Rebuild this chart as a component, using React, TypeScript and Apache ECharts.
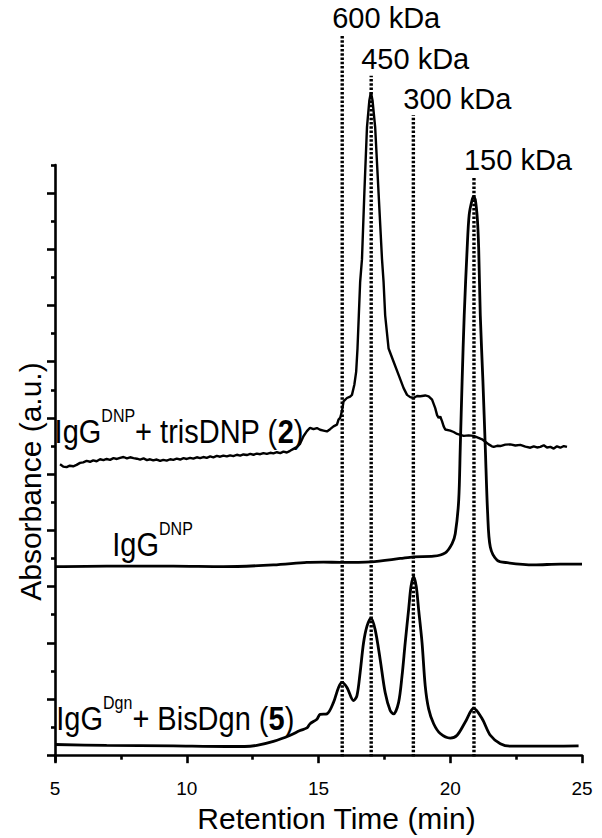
import React, { useEffect, useRef } from 'react';
import * as echarts from 'echarts';

// x ticks (min)
const xTickLabels = [5, 10, 15, 20, 25];
// y ticks in absorbance units (arbitrary; one unit per tick step)
const yLongTicks = [0, 2, 4, 6, 8, 10, 12, 14, 16, 18, 20];
const yShortTicks = [1, 3, 5, 7, 9, 11, 13, 15, 17, 19, 21];

// IgG-DNP + trisDNP (2)
const trisDnpCurve: [number, number][] = [
  [5.19, 10.35], [5.31, 10.27], [5.44, 10.25], [5.56, 10.3], [5.69, 10.28], [5.82, 10.33], [5.95, 10.4], [6.07, 10.42],
  [6.2, 10.47], [6.33, 10.44], [6.45, 10.49], [6.58, 10.46], [6.71, 10.53], [6.84, 10.5], [6.96, 10.54], [7.09, 10.51],
  [7.22, 10.57], [7.35, 10.54], [7.47, 10.58], [7.6, 10.61], [7.73, 10.56], [7.85, 10.6], [7.98, 10.57], [8.11, 10.55],
  [8.23, 10.52], [8.36, 10.56], [8.49, 10.5], [8.61, 10.53], [8.73, 10.49], [8.86, 10.52], [8.99, 10.47], [9.11, 10.51],
  [9.24, 10.48], [9.37, 10.53], [9.49, 10.51], [9.62, 10.55], [9.75, 10.52], [9.88, 10.57], [10.0, 10.54], [10.13, 10.58],
  [10.25, 10.55], [10.38, 10.6], [10.51, 10.57], [10.63, 10.61], [10.76, 10.58], [10.89, 10.63], [11.01, 10.6], [11.14, 10.65],
  [11.27, 10.62], [11.39, 10.66], [11.52, 10.63], [11.65, 10.67], [11.77, 10.64], [11.9, 10.69], [12.03, 10.66], [12.15, 10.7],
  [12.28, 10.68], [12.41, 10.72], [12.53, 10.69], [12.66, 10.73], [12.79, 10.71], [12.91, 10.75], [13.04, 10.72], [13.17, 10.76],
  [13.29, 10.74], [13.42, 10.78], [13.55, 10.75], [13.67, 10.8], [13.8, 10.77], [13.92, 10.83], [14.05, 10.9], [14.17, 10.96],
  [14.3, 11.08], [14.43, 11.35], [14.56, 11.53], [14.68, 11.65], [14.81, 11.6], [14.94, 11.64], [15.06, 11.58], [15.19, 11.55],
  [15.32, 11.52], [15.44, 11.6], [15.57, 11.7], [15.7, 11.76], [15.76, 11.94], [15.82, 12.0], [15.89, 12.24], [15.95, 12.59],
  [16.08, 12.71], [16.2, 12.76], [16.27, 12.82], [16.36, 13.18], [16.43, 13.65], [16.48, 14.47], [16.53, 15.65], [16.58, 16.83],
  [16.65, 17.65], [16.74, 20.0], [16.84, 22.35], [16.93, 23.3], [16.99, 23.59], [17.05, 23.3], [17.15, 22.35], [17.28, 20.0],
  [17.41, 17.65], [17.47, 16.83], [17.53, 15.65], [17.66, 14.47], [17.85, 14.0], [18.04, 13.53], [18.23, 13.06], [18.36, 12.82],
  [18.48, 12.74], [18.61, 12.71], [18.74, 12.78], [18.86, 12.77], [19.05, 12.8], [19.18, 12.77], [19.31, 12.65], [19.37, 12.5],
  [19.43, 12.35], [19.5, 12.1], [19.56, 12.0], [19.62, 12.05], [19.69, 11.88], [19.75, 11.7], [19.81, 11.59], [20.0, 11.55],
  [20.13, 11.5], [20.26, 11.43], [20.38, 11.4], [20.51, 11.36], [20.7, 11.38], [20.89, 11.36], [21.05, 11.3], [21.21, 11.24],
  [21.33, 11.15], [21.46, 11.06], [21.58, 10.99], [21.65, 10.97], [21.78, 11.01], [21.9, 11.0], [22.09, 11.05], [22.28, 11.06],
  [22.47, 11.02], [22.66, 11.04], [22.85, 10.98], [23.04, 10.94], [23.17, 10.99], [23.29, 10.95], [23.42, 10.97], [23.55, 11.03],
  [23.67, 10.95], [23.8, 10.97], [23.93, 10.91], [24.05, 10.99], [24.18, 10.94], [24.31, 11.0], [24.43, 10.97],
];

// IgG-DNP alone
const igGDnpCurve: [number, number][] = [
  [5.0, 6.71], [6.96, 6.73], [9.49, 6.73], [11.39, 6.71], [13.29, 6.77], [14.56, 6.86], [15.19, 6.87], [15.82, 6.86],
  [16.99, 6.88], [18.1, 7.0], [18.61, 7.06], [19.37, 7.08], [19.81, 7.2], [20.07, 7.53], [20.19, 7.88], [20.32, 9.06],
  [20.38, 10.94], [20.45, 13.3], [20.53, 15.65], [20.64, 18.0], [20.72, 19.24], [20.84, 19.8], [20.89, 19.87], [20.95, 19.77],
  [21.03, 19.06], [21.08, 18.0], [21.14, 15.65], [21.24, 13.3], [21.33, 10.94], [21.42, 8.59], [21.52, 7.41], [21.78, 6.94],
  [22.16, 6.85], [23.17, 6.77], [24.18, 6.8], [25.0, 6.8],
];

// IgG-Dgn + BisDgn (5)
const bisDgnCurve: [number, number][] = [
  [5.0, 0.38], [6.96, 0.35], [9.49, 0.33], [11.5, 0.31], [12.2, 0.31], [12.66, 0.35], [13.29, 0.49], [13.93, 0.71], [14.3, 0.88],
  [14.56, 0.97], [14.68, 1.12], [14.94, 1.28], [15.06, 1.45], [15.32, 1.47], [15.57, 1.88], [15.76, 2.41], [15.89, 2.59],
  [16.08, 2.41], [16.33, 1.94], [16.46, 2.12], [16.58, 2.94], [16.71, 4.0], [16.84, 4.59], [16.99, 4.88], [17.15, 4.47],
  [17.34, 3.41], [17.53, 2.23], [17.72, 1.59], [17.85, 1.47], [18.04, 1.88], [18.17, 2.82], [18.29, 4.0], [18.42, 5.18],
  [18.51, 6.0], [18.61, 6.35], [18.71, 6.0], [18.8, 5.18], [18.93, 4.0], [19.05, 2.47], [19.18, 1.65], [19.37, 1.12],
  [19.62, 0.77], [20.0, 0.61], [20.26, 0.71], [20.57, 1.18], [20.89, 1.67], [21.21, 1.3], [21.52, 0.71], [21.9, 0.41],
  [22.28, 0.32], [23.17, 0.32], [23.93, 0.32], [24.87, 0.33],
];

// molecular-weight markers
const markerTimes = [15.9, 17.0, 18.6, 20.9];
const markerTops = [25.65, 24.18, 22.77, 20.59];
const markerLabels = ['600 kDa', '450 kDa', '300 kDa', '150 kDa'];
const markerBottom = -0.05;

const FONT = '"Liberation Sans", Arial, Helvetica, sans-serif';
const Y_MIN = -0.21;
const Y_MAX = 21;

export default function App() {
  const ref = useRef<HTMLDivElement>(null);

  useEffect(() => {
    if (!ref.current) return;
    const chart = echarts.init(ref.current, undefined, { renderer: 'svg' });

    const axisStyle = { color: '#000', width: 2.6 };

    const markerSeries = markerTimes.map((t, i) => ({
      type: 'line',
      silent: true,
      clip: false,
      symbol: 'none',
      data: [
        [t, markerBottom],
        [t, markerTops[i]],
      ],
      lineStyle: { color: '#000', width: 3.4, type: [2.5, 1.8], opacity: 1 },
      z: 1,
    }));

    const markerLabelSeries = {
      type: 'scatter',
      silent: true,
      clip: false,
      symbolSize: 0,
      itemStyle: { color: '#000', opacity: 1 },
      label: {
        show: true,
        position: 'top',
        distance: 2,
        align: 'left',
        offset: [-10, 0],
        fontSize: 29,
        color: '#000',
        opacity: 1,
        fontFamily: FONT,
        formatter: (p: any) => markerLabels[p.dataIndex],
      },
      data: markerTimes.map((t, i) => [t, markerTops[i]]),
      z: 5,
    };

    const curve = (data: [number, number][], width: number, smooth: number | boolean) => ({
      type: 'line',
      silent: true,
      clip: false,
      symbol: 'none',
      smooth,
      data,
      lineStyle: { color: '#000', width },
      z: 2,
    });

    const rich = {
      a: { fontSize: 29, fontFamily: FONT, lineHeight: 44, fill: '#000' },
      b: { fontSize: 29, fontFamily: FONT, fontWeight: 'bold', lineHeight: 44, fill: '#000' },
      s: { fontSize: 16, fontFamily: FONT, lineHeight: 16, verticalAlign: 'top', fill: '#000' },
    };

    const label = (text: string, x: number, y: number) => ({
      type: 'text',
      x,
      y,
      scaleY: 1.12,
      silent: true,
      z: 10,
      style: { text, rich, align: 'left', verticalAlign: 'top', fill: '#000' },
    });

    chart.setOption({
      animation: false,
      backgroundColor: '#fff',
      grid: { left: 55, right: 20, top: 165, bottom: 72 },
      xAxis: {
        type: 'value',
        min: xTickLabels[0],
        max: xTickLabels[xTickLabels.length - 1],
        interval: 5,
        axisLine: { lineStyle: axisStyle },
        axisTick: { length: 8, lineStyle: axisStyle },
        minorTick: { show: true, splitNumber: 2, length: 4.5, lineStyle: axisStyle },
        splitLine: { show: false },
        minorSplitLine: { show: false },
        axisLabel: { margin: 18, fontSize: 19, color: '#000', fontFamily: FONT },
        name: 'Retention Time (min)',
        nameLocation: 'middle',
        nameGap: 37,
        nameTextStyle: { fontSize: 30, color: '#000', fontFamily: FONT, padding: [0, 0, 0, 36] },
      },
      yAxis: [
        {
          type: 'value',
          min: Y_MIN,
          max: Y_MAX,
          axisLine: { show: true, lineStyle: axisStyle },
          axisTick: { show: true, length: 8, customValues: yLongTicks, lineStyle: axisStyle },
          axisLabel: { show: false },
          splitLine: { show: false },
          name: 'Absorbance (a.u.)',
          nameLocation: 'middle',
          nameGap: 10,
          nameTextStyle: { fontSize: 30, color: '#000', fontFamily: FONT, padding: [0, 37, 0, 0] },
        },
        {
          type: 'value',
          position: 'left',
          min: Y_MIN,
          max: Y_MAX,
          axisLine: { show: false },
          axisTick: { show: true, length: 4, customValues: yShortTicks, lineStyle: axisStyle },
          axisLabel: { show: false },
          splitLine: { show: false },
        },
      ],
      series: [
        ...markerSeries,
        markerLabelSeries,
        curve(trisDnpCurve, 2.4, false),
        curve(igGDnpCurve, 2.8, 0.3),
        curve(bisDgnCurve, 2.8, 0.3),
      ],
      graphic: [
        label('{a|IgG}{s|DNP}{a|+ trisDNP (}{b|2}{a|)}', 54.6, 406.9),
        label('{a|IgG}{s|DNP}', 112.3, 519.9),
        label('{a|IgG}{s|Dgn}{a|+ BisDgn (}{b|5}{a|)}', 56.3, 694.7),
      ],
    });

    return () => chart.dispose();
  }, []);

  return (
    <div
      ref={ref}
      style={{ position: 'absolute', left: 0, top: 0, width: 602, height: 838, background: '#fff' }}
    />
  );
}
